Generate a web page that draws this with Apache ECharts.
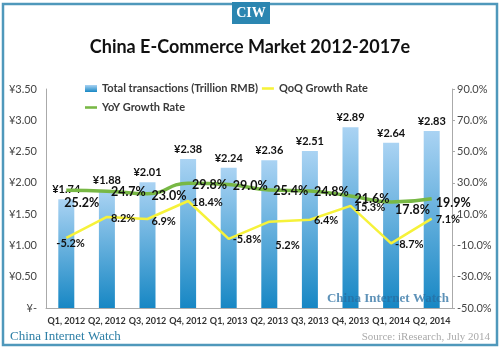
<!DOCTYPE html>
<html><head><meta charset="utf-8">
<script src="https://cdn.jsdelivr.net/npm/echarts@6/dist/echarts.min.js"></script>
<style>html,body{margin:0;padding:0;background:#fff}#c{width:500px;height:349px}</style>
</head><body><div id="c"></div>
<script>
var categories = ['Q1, 2012','Q2, 2012','Q3, 2012','Q4, 2012','Q1, 2013','Q2, 2013','Q3, 2013','Q4, 2013','Q1, 2014','Q2, 2014'];
var transactions = [1.74, 1.88, 2.01, 2.38, 2.24, 2.36, 2.51, 2.89, 2.64, 2.83];
var qoqGrowth = [-5.2, 8.2, 6.9, 18.4, -5.8, 5.2, 6.4, 15.3, -8.7, 7.1];
var yoyGrowth = [25.2, 24.7, 23.0, 29.8, 29.0, 25.4, 24.8, 21.6, 17.8, 19.9];
var leftTicks = [0, 0.5, 1, 1.5, 2, 2.5, 3, 3.5];
var rightTicks = [-50, -30, -10, 10, 30, 50, 70, 90];

var FONT = 'Lato, "DejaVu Sans", sans-serif';
var SERIF = '"Liberation Serif", "DejaVu Serif", serif';
var chart = echarts.init(document.getElementById('c'), null, {renderer:'canvas'});

var yoyOffsets = [[-6,13],[0,1],[0,2],[0,2],[0,2],[0,1],[0,1],[0,3],[0,8],[0,4]];
var qoqOffsets = [[-14,6],[0,1],[0,2],[0,1],[0,1],[2,24],[0,1],[0,2],[0,1],[0,1]];

var labelBase = {show:true, position:'right', distance:4, fontFamily:FONT, fontWeight:'bold', fontSize:11, color:'#111'};
var lineIcon = 'path://M0,0 L14,0 L14,3 L0,3 Z';

option = {
  animation:false,
  backgroundColor:'#fff',
  title:{text:'China E-Commerce Market 2012-2017e', left:'center', top:33,
    textStyle:{fontFamily:FONT, fontWeight:'bold', fontSize:18, color:'#111'}},
  legend:[
    {left:80, top:78, itemGap:4, itemWidth:12, itemHeight:7, data:[
      {name:'Total transactions (Trillion RMB)', icon:'rect'},
      {name:'QoQ Growth Rate', icon:lineIcon}],
     textStyle:{fontFamily:FONT, fontWeight:'bold', fontSize:11, color:'#3a3a3a'}},
    {left:80, top:97, itemWidth:12, itemHeight:7, data:[{name:'YoY Growth Rate', icon:lineIcon}],
     textStyle:{fontFamily:FONT, fontWeight:'bold', fontSize:11, color:'#3a3a3a'}}
  ],
  grid:{left:46, right:48, top:89, bottom:41},
  xAxis:{type:'category', data:categories,
    axisLine:{lineStyle:{color:'#aaa'}}, axisTick:{show:false},
    axisLabel:{interval:0, fontFamily:FONT, fontWeight:'bold', fontSize:9, color:'#333', margin:9}},
  yAxis:[
    {type:'value', min:0, max:3.5, interval:0.5, splitLine:{show:false},
     axisLine:{show:true, lineStyle:{color:'#aaa'}}, axisTick:{show:false},
     axisLabel:{fontFamily:FONT, fontSize:11, color:'#444', margin:9,
       formatter:function(v){return v===0?'¥-':'¥'+v.toFixed(2);}}},
    {type:'value', min:-50, max:90, interval:20, splitLine:{show:false},
     axisLine:{show:true, lineStyle:{color:'#aaa'}}, axisTick:{show:true, length:3, lineStyle:{color:'#aaa'}},
     axisLabel:{fontFamily:FONT, fontSize:11, color:'#444', margin:5,
       formatter:function(v){return v.toFixed(1)+'%';}}}
  ],
  series:[
    {name:'Total transactions (Trillion RMB)', type:'bar', yAxisIndex:0, data:transactions, barWidth:16,
     itemStyle:{color:new echarts.graphic.LinearGradient(0,0,0,1,[{offset:0,color:'#aad3f3'},{offset:1,color:'#1787c4'}])},
     label:{show:true, position:'top', distance:4, fontFamily:FONT, fontWeight:'bold', fontSize:11, color:'#111',
       formatter:function(p){return '¥'+p.value.toFixed(2);}}},
    {name:'QoQ Growth Rate', type:'line', yAxisIndex:1, symbol:'circle', symbolSize:0, showSymbol:true, smooth:false,
     lineStyle:{color:'#f6f23a', width:2.5}, itemStyle:{color:'#f6f23a'},
     data:qoqGrowth.map(function(v,i){return {value:v, label:Object.assign({}, labelBase, {offset:qoqOffsets[i], formatter:v.toFixed(1)+'%'})};})},
    {name:'YoY Growth Rate', type:'line', yAxisIndex:1, symbol:'circle', symbolSize:0, showSymbol:true, smooth:true,
     lineStyle:{color:'#78b845', width:3.5}, itemStyle:{color:'#78b845'},
     data:yoyGrowth.map(function(v,i){return {value:v, label:Object.assign({}, labelBase, {fontSize:12.5, offset:yoyOffsets[i], formatter:v.toFixed(1)+'%'})};})}
  ],
  graphic:[
    {type:'rect', shape:{x:3, y:4, width:494, height:341}, style:{fill:'none', stroke:'#4f98bb', lineWidth:2.5}, z:100},
    {type:'rect', shape:{x:232, y:2, width:38, height:22}, style:{fill:'#2b86b1'}, z:101},
    {type:'text', x:251, y:13, style:{text:'CIW', fill:'#fff', font:'bold 14px '+SERIF, align:'center', verticalAlign:'middle'}, z:102},
    {type:'text', x:10, y:337, style:{text:'China Internet Watch', fill:'#2d7fa6', font:'13px '+SERIF, verticalAlign:'middle'}, z:102},
    {type:'text', x:490, y:337, style:{text:'Source: iResearch, July 2014', fill:'#aaa', font:'11px '+SERIF, align:'right', verticalAlign:'middle'}, z:102},
    {type:'text', x:388, y:299, style:{text:'China Internet Watch', fill:'rgba(40,110,160,0.75)', font:'bold 13px '+SERIF, align:'center', verticalAlign:'middle'}, z:50}
  ]
};
chart.setOption(option);
</script></body></html>
